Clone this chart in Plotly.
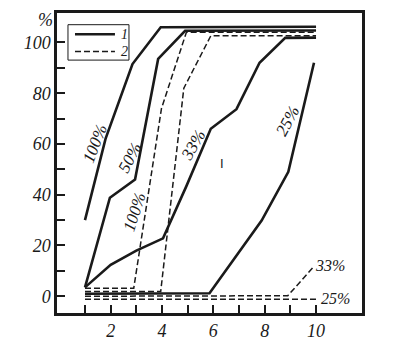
import plotly.graph_objects as go

# ---- data (x = variable on abscissa, y = %) ----
s100_x = [1, 1.8, 2.85, 3.95, 10]
s100_y = [30, 62, 91.5, 106, 106.2]
s50_x = [1, 1.97, 2.95, 3.85, 4.9, 10]
s50_y = [3.5, 38.8, 46, 93.5, 104.6, 104.7]
s33_x = [1, 2, 3, 4.04, 4.95, 5.9, 6.9, 7.8, 8.8, 10]
s33_y = [3.5, 12.4, 18, 22.8, 43.4, 66, 73.7, 92, 101.8, 101.9]
s25_x = [1, 5.85, 7.88, 8.92, 9.92]
s25_y = [1.0, 1.2, 29.8, 49, 92]

d100_x = [1, 2.9, 3.98, 4.95, 10]
d100_y = [3.2, 3.2, 74, 104, 104]
d50_x = [1, 3.95, 4.85, 5.9, 10]
d50_y = [1.9, 1.9, 82, 102.6, 102.6]
d33_x = [1, 8.9, 9.9]
d33_y = [0.0, 0.2, 11.6]
d25_x = [1, 10]
d25_y = [-1.2, -1.2]

x_ticks = [1, 2, 3, 4, 5, 6, 7, 8, 9, 10]
x_tick_text = ["", "2", "", "4", "", "6", "", "8", "", "10"]
y_ticks = [0, 10, 20, 30, 40, 50, 60, 70, 80, 90, 100]
y_tick_text = ["0", "", "20", "", "40", "", "60", "", "80", "", "100"]
legend_names = ["1", "2"]

SERIF = "Liberation Serif"
INK = "#1a1a1a"
SOLID = dict(color=INK, width=2.6)
DASHED = dict(color=INK, width=1.5, dash="6px,3px")

fig = go.Figure()
solid = [(s100_x, s100_y), (s50_x, s50_y), (s33_x, s33_y), (s25_x, s25_y)]
dashed = [(d100_x, d100_y), (d50_x, d50_y), (d33_x, d33_y), (d25_x, d25_y)]
for xs, ys in solid:
    fig.add_trace(go.Scatter(x=xs, y=ys, mode="lines", name=legend_names[0],
                             showlegend=False, line=SOLID))
for xs, ys in dashed:
    fig.add_trace(go.Scatter(x=xs, y=ys, mode="lines", name=legend_names[1],
                             showlegend=False, line=DASHED))

def lab(x, y, t, ang=0, size=17, xanchor="center", family=SERIF, style="italic",
        xref="x", yref="y", yanchor="middle"):
    fig.add_annotation(x=x, y=y, xref=xref, yref=yref, text=t, showarrow=False,
                       textangle=ang, xanchor=xanchor, yanchor=yanchor,
                       font=dict(family=family, size=size, color=INK, style=style))

lab(1.39, 60.2, "100%", -69)
lab(2.75, 54.8, "50%", -62)
lab(2.95, 33.2, "100%", -72)
lab(5.2, 59.5, "33%", -60)
lab(8.87, 69, "25%", -62)
lab(6.34, 52.5, "I", 0, 13, family="Liberation Sans", style="normal")
lab(9.9, 12, "33%", 0, 16, xanchor="left")
lab(10.1, -0.7, "25%", 0, 16, xanchor="left")
lab(-0.039, 0.977, "%", 0, 18, xref="paper", yref="paper")

# manual legend box (paper coordinates of the plot area)
fig.add_shape(type="rect", xref="paper", yref="paper", x0=0.036, x1=0.236,
              y0=0.843, y1=0.961, line=dict(color=INK, width=1), fillcolor="white")
for ly, style, name in [(0.929, SOLID, legend_names[0]), (0.872, DASHED, legend_names[1])]:
    st = dict(style)
    if "dash" in st:
        st["dash"] = "6px,3px"
    fig.add_shape(type="line", xref="paper", yref="paper", x0=0.059, x1=0.19,
                  y0=ly, y1=ly, line=dict(color=INK, width=st["width"] if "dash" not in st else 1.5,
                                          dash=st.get("dash", "solid")))
    lab(0.203, ly, name, 0, 14, xanchor="left", xref="paper", yref="paper")

fig.update_layout(
    width=397, height=351,
    margin=dict(l=57, r=35, t=10, b=35),
    paper_bgcolor="white", plot_bgcolor="white",
    showlegend=False,
    xaxis=dict(range=[-0.09, 11.79], tickvals=x_ticks, ticktext=x_tick_text,
               ticks="inside", ticklen=8, tickwidth=2, tickcolor=INK,
               showline=True, linecolor=INK, linewidth=2.5, mirror=True,
               showgrid=False, zeroline=False,
               tickfont=dict(family=SERIF, size=18, style="italic", color=INK)),
    yaxis=dict(range=[-6.6, 111.6], tickvals=y_ticks, ticktext=y_tick_text,
               ticks="inside", ticklen=8, tickwidth=2, tickcolor=INK,
               showline=True, linecolor=INK, linewidth=2.5, mirror=True,
               showgrid=False, zeroline=False,
               tickfont=dict(family=SERIF, size=18, style="italic", color=INK)),
)

fig.write_html("out.html")
